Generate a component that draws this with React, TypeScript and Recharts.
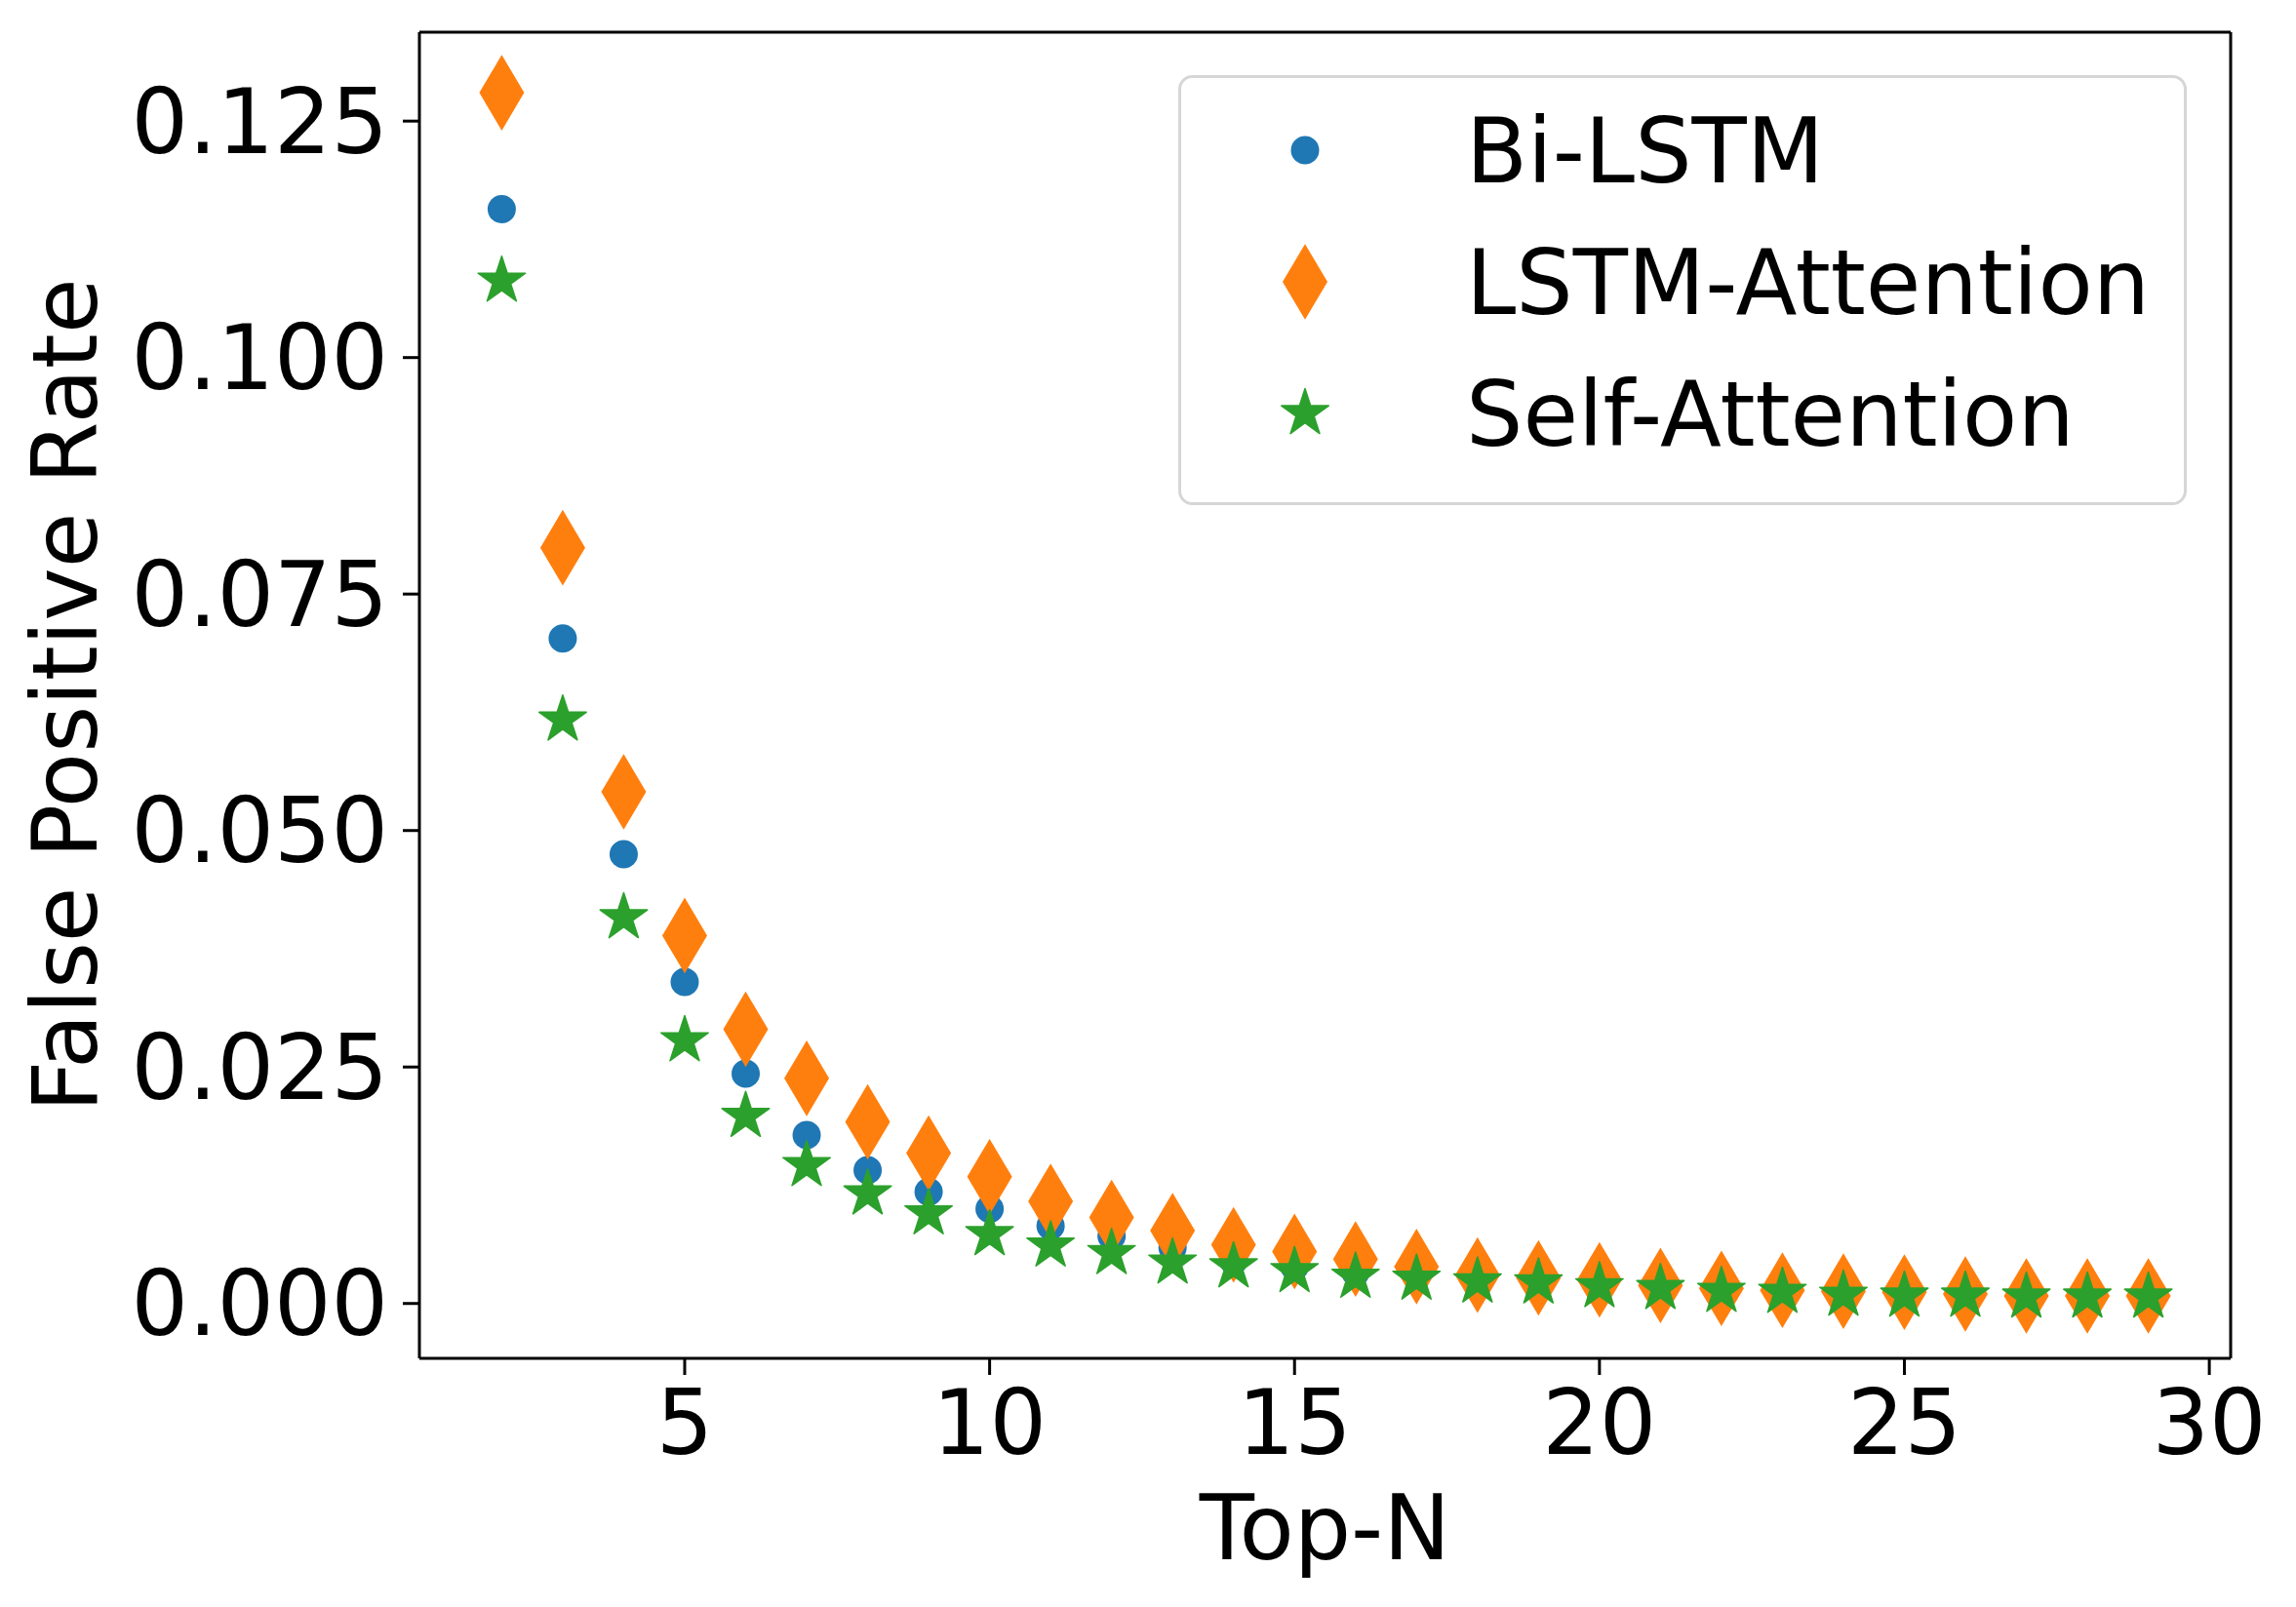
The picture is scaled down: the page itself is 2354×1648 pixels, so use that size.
import { ScatterChart, Scatter, XAxis, YAxis, Legend, ReferenceLine } from "recharts";

// values
const topN = [2, 3, 4, 5, 6, 7, 8, 9, 10, 11, 12, 13, 14, 15, 16, 17, 18, 19, 20, 21, 22, 23, 24, 25, 26, 27, 28, 29];

const biLstm = [
  0.1157, 0.0703, 0.0475, 0.034, 0.0243, 0.0178, 0.0141, 0.0118, 0.01, 0.0082, 0.0071, 0.0059, 0.0045, 0.0039,
  0.0033, 0.003, 0.0027, 0.0025, 0.0021, 0.0019, 0.0016, 0.0015, 0.0012, 0.0011, 0.001, 0.0009, 0.0009, 0.0009,
];
const lstmAttention = [
  0.128, 0.0799, 0.0541, 0.0389, 0.029, 0.0238, 0.0192, 0.0159, 0.0134, 0.0108, 0.0091, 0.0077, 0.0062, 0.0055,
  0.0047, 0.0039, 0.003, 0.0027, 0.0025, 0.0019, 0.0016, 0.0014, 0.0013, 0.0012, 0.001, 0.0008, 0.0008, 0.0008,
];
const selfAttention = [
  0.1081, 0.0617, 0.0408, 0.0278, 0.0198, 0.0146, 0.0116, 0.0095, 0.0073, 0.0061, 0.0053, 0.0043, 0.0039, 0.0034,
  0.0028, 0.0026, 0.0023, 0.0022, 0.0018, 0.0016, 0.0013, 0.0012, 0.0009, 0.0008, 0.0008, 0.0007, 0.0007, 0.0007,
];

const seriesNames = ["Bi-LSTM", "LSTM-Attention", "Self-Attention"];
const seriesColors = ["#1f77b4", "#ff7f0e", "#2ca02c"];
const seriesMarkers = ["circle", "diamond", "star"];

const xTicks = [5, 10, 15, 20, 25, 30];
const yTicks = [0, 0.025, 0.05, 0.075, 0.1, 0.125];
const xDomain = [0.65, 30.35];
const yDomain = [-0.0058, 0.1344];

const FONT = "DejaVu Sans";
const FS = 92;

const toPoints = (vals: number[]) => topN.map((n, i) => ({ n, v: vals[i] }));

const starPath = (cx: number, cy: number, R: number) => {
  const r = R * 0.381966;
  let d = "";
  for (let i = 0; i < 10; i++) {
    const a = -Math.PI / 2 + (i * Math.PI) / 5;
    const rad = i % 2 === 0 ? R : r;
    d += (i === 0 ? "M" : "L") + (cx + rad * Math.cos(a)).toFixed(2) + "," + (cy + rad * Math.sin(a)).toFixed(2);
  }
  return d + "Z";
};

const Marker = ({ kind, cx, cy, color }: any) => {
  if (cx == null || cy == null) return null;
  if (kind === "circle") return <circle cx={cx} cy={cy} r={14.5} fill={color} />;
  if (kind === "diamond")
    return (
      <path
        d={`M${cx},${cy - 38.8}L${cx + 23},${cy}L${cx},${cy + 38.8}L${cx - 23},${cy}Z`}
        fill={color}
      />
    );
  return <path d={starPath(cx, cy, 25.5)} fill={color} stroke={color} strokeWidth={1.5} strokeLinejoin="round" />;
};

const renderLegend = () => (
  <svg width={1034} height={441} style={{ display: "block" }}>
    <rect x={1.5} y={1.5} width={1031} height={438} rx={13} ry={13} fill="#ffffff" fillOpacity={0.8} stroke="#d6d6d6" strokeWidth={3} />
    {seriesNames.map((name, i) => {
      const cy = 77 + i * 135;
      return (
        <g key={name}>
          <Marker kind={seriesMarkers[i]} cx={130} cy={cy} color={seriesColors[i]} />
          <text x={295} y={cy + 33} fontFamily={FONT} fontSize={FS} fill="#000">
            {name}
          </text>
        </g>
      );
    })}
  </svg>
);

const tickStyle = { fontFamily: FONT, fontSize: FS, fill: "#000" };
const frame = { stroke: "#000", strokeWidth: 3 };

export default function App() {
  const data = [biLstm, lstmAttention, selfAttention].map(toPoints);
  return (
    <div style={{ position: "absolute", left: 0, top: 0, width: 2354, height: 1648, background: "#fff" }}>
      <ScatterChart width={2354} height={1648} margin={{ top: 33, right: 67, bottom: 0, left: 0 }}>
        <XAxis
          xAxisId="b"
          type="number"
          dataKey="n"
          domain={xDomain}
          ticks={xTicks}
          allowDataOverflow
          height={255}
          tick={tickStyle}
          tickSize={17}
          tickMargin={16}
          axisLine={frame}
          tickLine={frame}
          label={{ value: "Top-N", position: "insideBottom", offset: 49, style: { fontFamily: FONT, fontSize: FS, fill: "#000" } }}
        />
        <YAxis
          yAxisId="l"
          type="number"
          dataKey="v"
          domain={yDomain}
          ticks={yTicks}
          allowDataOverflow
          width={430}
          tick={tickStyle}
          tickFormatter={(v: number) => v.toFixed(3)}
          tickSize={17}
          tickMargin={15}
          axisLine={frame}
          tickLine={frame}
          label={{
            value: "False Positive Rate",
            angle: -90,
            position: "insideLeft",
            offset: 66,
            style: { textAnchor: "middle", fontFamily: FONT, fontSize: FS, fill: "#000" },
          }}
        />
        {/* top and right spines */}
        <ReferenceLine xAxisId="b" yAxisId="l" y={yDomain[1]} stroke="#000" strokeWidth={3} />
        <ReferenceLine xAxisId="b" yAxisId="l" x={xDomain[1]} stroke="#000" strokeWidth={3} />
        {data.map((pts, i) => (
          <Scatter
            key={seriesNames[i]}
            name={seriesNames[i]}
            data={pts}
            xAxisId="b"
            yAxisId="l"
            fill={seriesColors[i]}
            isAnimationActive={false}
            shape={(p: any) => <Marker kind={seriesMarkers[i]} cx={p.cx} cy={p.cy} color={seriesColors[i]} />}
          />
        ))}
        <Legend
          layout="horizontal"
          verticalAlign="middle"
          align="center"
          content={renderLegend}
          wrapperStyle={{ position: "absolute", left: 1208, top: 77, width: 1034, height: 441 }}
        />
      </ScatterChart>
    </div>
  );
}
